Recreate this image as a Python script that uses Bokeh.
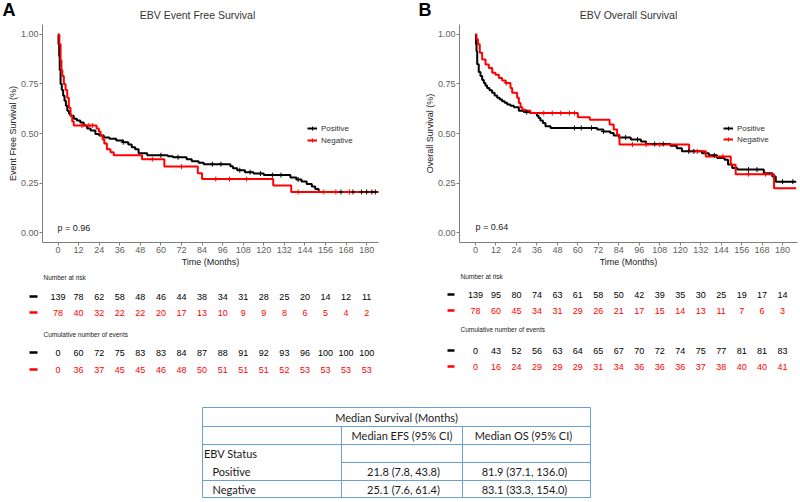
import numpy as np
from bokeh.plotting import figure
from bokeh.models import (Range1d, FixedTicker, NumeralTickFormatter, Label, Title,
                          Legend, LegendItem, ColumnDataSource, Plot)
from bokeh.layouts import row, column
from bokeh.core.properties import value
from bokeh.embed import file_html
from bokeh.resources import INLINE

# ---------------- data ----------------
months = [0, 12, 24, 36, 48, 60, 72, 84, 96, 108, 120, 132, 144, 156, 168, 180]
y_ticks = [0.0, 0.25, 0.5, 0.75, 1.0]
groups = ["Positive", "Negative"]

# EBV Event Free Survival (Kaplan-Meier steps)
efs_pos_t = [0, 0.3, 0.7, 1.0, 1.5, 2.2, 3.0, 3.8, 4.6, 5.4,
             6.4, 7.3, 9.2, 11.0, 13.0, 15.0, 17.0, 19.0, 21.8, 24.0,
             26.7, 30.0, 34.0, 38.0, 41.0, 43.0, 45.0, 47.0, 52.0, 64.0,
             67.0, 75.0, 78.0, 82.0, 85.0, 100.5, 102.0, 104.5, 109.0, 114.0,
             120.0, 135.5, 139.0, 142.0, 145.0, 148.0, 150.0, 152.0, 187.0]
efs_pos_s = [1.0, 0.95, 0.89, 0.82, 0.75, 0.72, 0.69, 0.665, 0.64, 0.615,
             0.60, 0.59, 0.575, 0.565, 0.555, 0.54, 0.525, 0.515, 0.498, 0.49,
             0.48, 0.473, 0.465, 0.456, 0.445, 0.43, 0.42, 0.40, 0.39, 0.385,
             0.38, 0.37, 0.36, 0.352, 0.345, 0.335, 0.325, 0.315, 0.305, 0.298,
             0.29, 0.278, 0.268, 0.258, 0.245, 0.232, 0.22, 0.205, 0.205]
efs_pos_c = [38, 60, 70, 90, 95, 106, 112, 118, 125, 130, 140, 165, 172, 177, 180, 183, 185]

efs_neg_t = [0, 0.8, 1.5, 2.0, 2.5, 3.4, 4.4, 5.4, 6.3, 7.3,
             8.3, 9.2, 22.5, 23.8, 24.8, 26.0, 27.0, 28.5, 30.6, 32.5,
             49.0, 62.0, 81.5, 84.0, 125.5, 136.0, 187.0]
efs_neg_s = [1.0, 0.95, 0.87, 0.82, 0.79, 0.75, 0.72, 0.68, 0.63, 0.59,
             0.56, 0.54, 0.525, 0.51, 0.49, 0.47, 0.45, 0.42, 0.405, 0.39,
             0.37, 0.333, 0.30, 0.27, 0.237, 0.205, 0.205]
efs_neg_c = [14, 18, 20, 55, 72, 92, 100, 110, 140, 155, 162, 170]

# EBV Overall Survival
os_pos_t = [0, 0.3, 0.6, 1.0, 1.9, 2.9, 3.9, 4.9, 5.8, 6.8,
            8.2, 9.7, 11.2, 12.7, 14.2, 15.6, 17.1, 18.6, 20.5, 22.5,
            25.4, 28.3, 32.0, 36.0, 37.0, 38.0, 39.5, 41.0, 44.0, 71.3,
            75.0, 79.0, 81.0, 84.0, 91.0, 97.0, 100.0, 114.3, 118.0, 121.0,
            132.8, 136.8, 141.6, 146.0, 148.0, 150.5, 153.4, 169.0, 174.0, 176.0,
            188.0]
os_pos_s = [1.0, 0.95, 0.915, 0.85, 0.81, 0.79, 0.77, 0.755, 0.742, 0.73,
            0.718, 0.705, 0.692, 0.68, 0.671, 0.663, 0.655, 0.646, 0.64, 0.632,
            0.615, 0.608, 0.603, 0.59, 0.578, 0.565, 0.553, 0.536, 0.528, 0.52,
            0.51, 0.502, 0.49, 0.48, 0.47, 0.46, 0.447, 0.438, 0.426, 0.41,
            0.40, 0.39, 0.376, 0.368, 0.343, 0.326, 0.318, 0.30, 0.283, 0.257,
            0.257]
os_pos_c = [30, 58, 62, 68, 75, 88, 95, 105, 110, 125, 128, 140, 160, 165, 180, 186]

os_neg_t = [0, 0.6, 1.4, 2.5, 3.9, 5.9, 7.8, 9.8, 11.7, 13.7,
            15.6, 17.6, 20.5, 21.5, 24.4, 25.4, 26.4, 27.4, 29.3, 32.2,
            60.0, 67.0, 78.6, 81.0, 83.0, 84.4, 125.2, 135.0, 149.6, 152.5,
            175.0, 188.0]
os_neg_s = [1.0, 0.975, 0.95, 0.907, 0.873, 0.848, 0.831, 0.806, 0.797, 0.78,
            0.767, 0.755, 0.73, 0.705, 0.68, 0.654, 0.632, 0.62, 0.615, 0.603,
            0.582, 0.57, 0.545, 0.52, 0.494, 0.444, 0.41, 0.384, 0.342, 0.295,
            0.224, 0.224]
os_neg_c = [18, 40, 45, 50, 55, 58, 92, 100, 108, 130, 145, 160, 170]

# risk tables
efs_risk_pos = [139, 78, 62, 58, 48, 46, 44, 38, 34, 31, 28, 25, 20, 14, 12, 11]
efs_risk_neg = [78, 40, 32, 22, 22, 20, 17, 13, 10, 9, 9, 8, 6, 5, 4, 2]
efs_events_pos = [0, 60, 72, 75, 83, 83, 84, 87, 88, 91, 92, 93, 96, 100, 100, 100]
efs_events_neg = [0, 36, 37, 45, 45, 46, 48, 50, 51, 51, 51, 52, 53, 53, 53, 53]
os_risk_pos = [139, 95, 80, 74, 63, 61, 58, 50, 42, 39, 35, 30, 25, 19, 17, 14]
os_risk_neg = [78, 60, 45, 34, 31, 29, 26, 21, 17, 15, 14, 13, 11, 7, 6, 3]
os_events_pos = [0, 43, 52, 56, 63, 64, 65, 67, 70, 72, 74, 75, 77, 81, 81, 83]
os_events_neg = [0, 16, 24, 29, 29, 29, 31, 34, 36, 36, 36, 37, 38, 40, 40, 41]

# median survival table
table_title = "Median Survival (Months)"
table_cols = ["Median EFS (95% CI)", "Median OS (95% CI)"]
table_group = "EBV Status"
median_efs = ["21.8 (7.8, 43.8)", "25.1 (7.6, 61.4)"]
median_os = ["81.9 (37.1, 136.0)", "83.1 (33.3, 154.0)"]

# ---------------- style ----------------
FONT = "Liberation Sans"
TFONT = "Lato"
BLACK = "#000000"
RED = "#ff0000"
AXIS = "#7f7f7f"
BORDER = "#6a9fd4"

# page geometry (page pixels)
HEAD_TOP, FRAME_TOP, FRAME_BOT, KM_BOT, RISK_BOT, PAGE_BOT = 0, 24, 242, 270, 400, 502
W = 400
HAS_FRAME_ALIGN = "frame_align" in Plot.properties()


def fixframe(f):
    if HAS_FRAME_ALIGN:
        f.frame_align = False
    return f


def step_value(t, s, c):
    idx = np.searchsorted(np.asarray(t), np.asarray(c), side="right") - 1
    return list(np.asarray(s)[idx])


def blank(width, height, xr, yr):
    f = figure(width=width, height=height, x_range=xr, y_range=yr,
               x_axis_type=None, y_axis_type=None, toolbar_location=None,
               output_backend="svg", min_border=0)
    f.outline_line_color = None
    f.grid.visible = False
    return fixframe(f)


def panel(spec):
    x0, ppm = spec["x0"], spec["ppm"]
    fl, fr, fx = spec["frame_l"], spec["frame_r"], spec["fig_x"]

    # header strip: panel letter and title
    hd = blank(W, FRAME_TOP - HEAD_TOP, Range1d(fx, fx + W), Range1d(FRAME_TOP, HEAD_TOP))
    hd.text(x=[spec["letter_xy"][0]], y=[spec["letter_xy"][1]], text=[spec["letter"]],
            text_font=value(FONT), text_font_size="18px", text_font_style="bold",
            text_align="left", text_baseline="middle", text_color="#000000")
    hd.text(x=[spec["title_xy"][0]], y=[spec["title_xy"][1]], text=[spec["title"]],
            text_font=value(FONT), text_font_size="10.5px", text_align="center",
            text_baseline="middle", text_color="#333333")

    km = figure(width=W, height=KM_BOT - FRAME_TOP,
                x_range=Range1d((fl - x0) / ppm, (fr - x0) / ppm),
                y_range=Range1d(-0.05, 1.05),
                toolbar_location=None, output_backend="svg",
                min_border_left=fl - fx, min_border_right=fx + W - fr,
                min_border_top=0, min_border_bottom=KM_BOT - FRAME_BOT)
    fixframe(km)
    km.outline_line_color = None
    km.grid.visible = False
    km.xaxis.ticker = FixedTicker(ticks=months)
    km.yaxis.ticker = FixedTicker(ticks=y_ticks)
    km.yaxis.formatter = NumeralTickFormatter(format="0.00")
    km.xaxis.axis_label = "Time (Months)"
    km.xaxis.axis_label_text_font = FONT
    km.xaxis.axis_label_text_font_size = "9px"
    km.xaxis.axis_label_text_font_style = "normal"
    km.xaxis.axis_label_text_color = "#222222"
    km.xaxis.axis_label_standoff = 1
    km.axis.axis_line_color = AXIS
    km.axis.major_tick_line_color = AXIS
    km.axis.major_tick_out = 3
    km.axis.major_tick_in = 0
    km.axis.minor_tick_out = 0
    km.axis.minor_tick_in = 0
    km.axis.major_label_text_font = FONT
    km.axis.major_label_text_font_size = "9px"
    km.axis.major_label_text_color = "#5e5e5e"
    km.axis.major_label_standoff = 1

    # rotated y-axis title in the left border
    frame_mid = (FRAME_TOP + FRAME_BOT) / 2
    km.add_layout(Title(text=spec["ylabel"], align="center", offset=frame_mid - spec["ylabel_y"],
                        standoff=0, text_font=FONT, text_font_size="9px",
                        text_font_style="normal", text_color="#222222"), "left")

    steps, cens = [], []
    for (t, s, c, col) in spec["curves"]:
        steps.append(km.step(t, s, mode="after", line_width=2, line_color=col))
    for (t, s, c, col) in spec["curves"]:
        cens.append(km.scatter(c, step_value(t, s, c), marker="cross", size=5,
                               line_width=1, line_color=col))
    items = [LegendItem(label=g, renderers=[st, ce]) for g, st, ce in zip(groups, steps, cens)]
    lx, ly, sp = spec["legend"]
    leg = Legend(items=items, location=(lx - fl, (FRAME_BOT - ly) - (20 + sp)),
                 padding=0, margin=0, spacing=sp, glyph_width=10, glyph_height=10,
                 label_height=10, label_standoff=4, label_text_font=FONT,
                 label_text_font_size="8px", label_text_color="#333333",
                 background_fill_alpha=0, border_line_alpha=0)
    km.add_layout(leg)
    km.add_layout(Label(x=spec["p_xy"][0] - fl, y=FRAME_BOT - spec["p_xy"][1],
                        x_units="screen", y_units="screen", text=spec["ptext"],
                        text_font=FONT, text_font_size="9px", text_align="left",
                        text_baseline="middle", text_color="#222222"))

    # risk table strip
    rk = blank(W, RISK_BOT - KM_BOT, Range1d((fx - x0) / ppm, (fx + W - x0) / ppm),
               Range1d(RISK_BOT, KM_BOT))
    ry = spec["risk_rows"]
    hx = (spec["head_x"] - x0) / ppm
    rk.text(x=[hx, hx], y=[ry[0], ry[3]], text=["Number at risk", "Cumulative number of events"],
            text_font=value(FONT), text_font_size="6.5px", text_align="left",
            text_baseline="middle", text_color="#222222")
    d0, d1 = (spec["dash"][0] - x0) / ppm, (spec["dash"][1] - x0) / ppm
    rows = [(spec["risk"][0], ry[1], BLACK), (spec["risk"][1], ry[2], RED),
            (spec["events"][0], ry[4], BLACK), (spec["events"][1], ry[5], RED)]
    for vals, yy, col in rows:
        src = ColumnDataSource(dict(t=months, y=[yy] * len(months), n=[str(v) for v in vals]))
        rk.text(x="t", y="y", text="n", source=src, text_font=value(FONT),
                text_font_size="9px", text_align="center", text_baseline="middle",
                text_color=col)
        rk.segment(x0=[d0], y0=[yy], x1=[d1], y1=[yy], line_color=col, line_width=2.5)
    return column(hd, km, rk)


specA = dict(fig_x=0, frame_l=42, frame_r=378, x0=57.5, ppm=1.715,
             letter="A", letter_xy=(2, 9),
             title="EBV Event Free Survival", title_xy=(197, 14),
             ylabel="Event Free Survival (%)", ylabel_y=145,
             ptext="p = 0.96", p_xy=(57, 227), legend=(307, 123, 2),
             curves=[(efs_pos_t, efs_pos_s, efs_pos_c, BLACK),
                     (efs_neg_t, efs_neg_s, efs_neg_c, RED)],
             risk_rows=[277, 296, 312, 334, 352, 369], dash=(29, 37), head_x=43,
             risk=[efs_risk_pos, efs_risk_neg], events=[efs_events_pos, efs_events_neg])

specB = dict(fig_x=400, frame_l=459, frame_r=797, x0=475, ppm=1.706,
             letter="B", letter_xy=(418, 9),
             title="EBV Overall Survival", title_xy=(628, 14),
             ylabel="Overall Survival (%)", ylabel_y=127,
             ptext="p = 0.64", p_xy=(475, 226), legend=(723, 123, 1),
             curves=[(os_pos_t, os_pos_s, os_pos_c, BLACK),
                     (os_neg_t, os_neg_s, os_neg_c, RED)],
             risk_rows=[276, 294, 310, 329, 350, 366], dash=(447, 454), head_x=460,
             risk=[os_risk_pos, os_risk_neg], events=[os_events_pos, os_events_neg])

pA = panel(specA)
pB = panel(specB)

# ---------------- median survival table ----------------
tb = blank(2 * W, PAGE_BOT - RISK_BOT, Range1d(0, 2 * W), Range1d(PAGE_BOT, RISK_BOT))
L, R, D1, D2 = 202, 590, 341, 462
H = [407, 426, 444, 462, 480, 497]
tb.segment(x0=[L, L, L, D1, L, L], y0=H, x1=[R] * 6, y1=H, line_color=BORDER, line_width=1)
tb.segment(x0=[L, R, D1, D2], y0=[H[0], H[0], H[1], H[1]], x1=[L, R, D1, D2],
           y1=[H[5]] * 4, line_color=BORDER, line_width=1)
tkw = dict(text_font=value(TFONT), text_font_size="11px", text_baseline="middle",
           text_color="#1a1a1a")
tb.text(x=[(L + R) / 2], y=[(H[0] + H[1]) / 2], text=[table_title], text_align="center", **tkw)
tb.text(x=[401.5, 523], y=[(H[1] + H[2]) / 2] * 2, text=table_cols, text_align="center", **tkw)
tb.text(x=[203.5], y=[(H[2] + H[3]) / 2], text=[table_group], text_align="left", **tkw)
ry = [(H[3] + H[4]) / 2, (H[4] + H[5]) / 2]
tb.text(x=[212, 212], y=ry, text=groups, text_align="left", **tkw)
tb.text(x=[403, 403], y=ry, text=median_efs, text_align="center", **tkw)
tb.text(x=[524, 524], y=ry, text=median_os, text_align="center", **tkw)

layout = column(row(pA, pB), tb)
open("out.html", "w").write(file_html(layout, INLINE))
